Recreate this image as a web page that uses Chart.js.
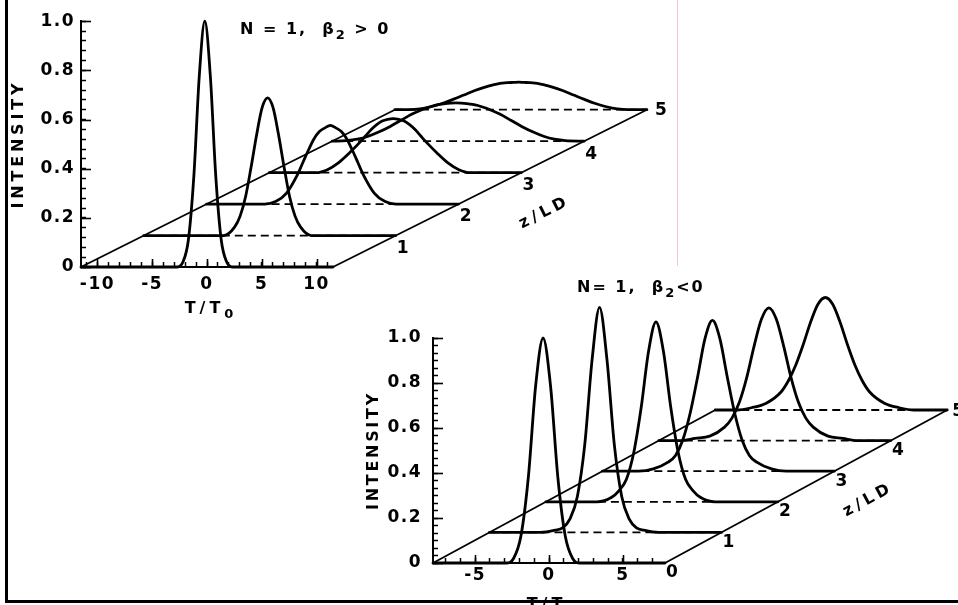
<!DOCTYPE html>
<html>
<head>
<meta charset="utf-8">
<script src="https://cdn.jsdelivr.net/npm/chart.js@4.4.1/dist/chart.umd.min.js"></script>
<style>
  html, body { margin: 0; padding: 0; background: #fff; width: 958px; height: 605px; overflow: hidden; }
  #wrap { position: relative; width: 958px; height: 605px; }
  canvas { position: absolute; left: 0; top: 0; }
  #frameL { position: absolute; left: 5px; top: 0; width: 3px; height: 603px; background: #000; }
  #frameB { position: absolute; left: 5px; top: 600px; width: 953px; height: 3px; background: #000; }
  #scan { position: absolute; left: 677px; top: 0; width: 1px; height: 266px; background: #f5c4cc; }
</style>
</head>
<body>
<div id="wrap">
  <div id="scan"></div>
  <canvas id="cTop" width="958" height="605"></canvas>
  <canvas id="cBot" width="958" height="605"></canvas>
  <div id="frameL"></div>
  <div id="frameB"></div>
</div>
<script>
// ================= DATA =================
// distance steps along the fibre (z / L_D)
const zSteps = [0, 1, 2, 3, 4, 5];

// ---- upper panel: N = 1, beta2 > 0 ----
const topT = [-11.5, -10.2, -9.2, -8.2, -7.2, -6.2, -5.2, -4.2, -3.2, -2.7, -2.2, -1.7, -1.2, -0.7, -0.2, 0.3, 0.8, 1.3, 1.8, 2.3, 2.8, 3.8, 4.8, 5.8, 6.8, 7.8, 8.8, 9.8, 11.5];
const topZ0 = [0, 0, 0, 0, 0, 0, 0, 0, 0, 0, 0.02, 0.11, 0.37, 0.78, 1.0, 0.78, 0.37, 0.11, 0.02, 0, 0, 0, 0, 0, 0, 0, 0, 0, 0];
const topZ1 = [0, 0, 0, 0, 0, 0, 0, 0, 0.035, 0.08, 0.16, 0.28, 0.41, 0.52, 0.56, 0.52, 0.41, 0.28, 0.16, 0.08, 0.035, 0, 0, 0, 0, 0, 0, 0, 0];
const topZ2 = [0, 0, 0, 0, 0, 0, 0.01, 0.045, 0.12, 0.17, 0.22, 0.265, 0.295, 0.31, 0.32, 0.31, 0.295, 0.265, 0.22, 0.17, 0.12, 0.045, 0.01, 0, 0, 0, 0, 0, 0];
const topZ3 = [0, 0, 0, 0, 0, 0.012, 0.04, 0.08, 0.125, 0.15, 0.175, 0.195, 0.21, 0.217, 0.22, 0.217, 0.21, 0.195, 0.175, 0.15, 0.125, 0.08, 0.04, 0.012, 0, 0, 0, 0, 0];
const topZ4 = [0, 0.002, 0.008, 0.02, 0.038, 0.06, 0.085, 0.11, 0.13, 0.138, 0.145, 0.15, 0.153, 0.155, 0.156, 0.155, 0.153, 0.15, 0.145, 0.138, 0.13, 0.11, 0.085, 0.06, 0.038, 0.02, 0.008, 0.002, 0];
const topZ5 = [0, 0, 0.003, 0.012, 0.025, 0.042, 0.06, 0.078, 0.093, 0.099, 0.104, 0.108, 0.11, 0.111, 0.112, 0.111, 0.11, 0.108, 0.104, 0.099, 0.093, 0.078, 0.06, 0.042, 0.025, 0.012, 0.003, 0, 0];
const topXTickValues = [-10, -5, 0, 5, 10];
const topXTickLabels = ['-10', '-5', '0', '5', '10'];
const topYTickValues = [0, 0.2, 0.4, 0.6, 0.8, 1.0];
const topYTickLabels = ['0', '0.2', '0.4', '0.6', '0.8', '1.0'];
const topZLabels = ['', '1', '2', '3', '4', '5'];

// ---- lower panel: N = 1, beta2 < 0 ----
const botT = [-7.85, -6.4, -5.4, -4.4, -3.4, -2.9, -2.4, -1.9, -1.4, -0.9, -0.4, 0.1, 0.6, 1.1, 1.6, 2.1, 2.6, 3.6, 4.6, 5.6, 7.85];
const botZ0 = [0, 0, 0, 0, 0, 0, 0.02, 0.12, 0.38, 0.79, 1.0, 0.79, 0.38, 0.12, 0.02, 0, 0, 0, 0, 0, 0];
const botZ1 = [0, 0, 0, 0, 0.01, 0.02, 0.06, 0.16, 0.39, 0.77, 1.0, 0.77, 0.39, 0.16, 0.06, 0.02, 0.01, 0, 0, 0, 0];
const botZ2 = [0, 0, 0, 0, 0.02, 0.05, 0.10, 0.22, 0.42, 0.67, 0.80, 0.67, 0.42, 0.22, 0.10, 0.05, 0.02, 0, 0, 0, 0];
const botZ3 = [0, 0, 0, 0.01, 0.04, 0.07, 0.14, 0.26, 0.42, 0.59, 0.67, 0.59, 0.42, 0.26, 0.14, 0.07, 0.04, 0.01, 0, 0, 0];
const botZ4 = [0, 0, 0.01, 0.02, 0.06, 0.10, 0.17, 0.28, 0.42, 0.54, 0.59, 0.54, 0.42, 0.28, 0.17, 0.10, 0.06, 0.02, 0.01, 0, 0];
const botZ5 = [0, 0, 0.01, 0.03, 0.08, 0.13, 0.20, 0.29, 0.39, 0.47, 0.50, 0.47, 0.39, 0.29, 0.20, 0.13, 0.08, 0.03, 0.01, 0, 0];
const botXTickValues = [-5, 0, 5];
const botXTickLabels = ['-5', '0', '5'];
const botYTickValues = [0, 0.2, 0.4, 0.6, 0.8, 1.0];
const botYTickLabels = ['0', '0.2', '0.4', '0.6', '0.8', '1.0'];
const botZLabels = ['0', '1', '2', '3', '4', '5'];

// ================= STYLE / LAYOUT =================
const FAM = "'DejaVu Sans'";
const INK = '#000';

const panels = [
  {
    canvas: 'cTop', t: topT, curves: [topZ0, topZ1, topZ2, topZ3, topZ4, topZ5],
    tMin: -11.5, tMax: 11.5, tickMin: -11, tickMax: 11,
    skewT: 5.73, skewI: 0.128,
    xVals: topXTickValues, xLabs: topXTickLabels, yVals: topYTickValues, yLabs: topYTickLabels, yMinorStep: 0.04,
    zLabs: topZLabels,
    padding: { left: 5, top: 17, right: 625, bottom: 288 },
    yWidth: 76, xHeight: 50, yTickPad: 11, xTickPad: 12,
    yTitlePad: { top: 4, bottom: 0 },
    labelSpacing: 1.5, yTitleSpacing: 3.8,
    xTitleDx: 4, xTitleDy: 46,
    zLabOffset: [7, 13], zLastOffset: [14, 1],
    zTitleAt: 3.45, zTitleOffset: [-5, 54],
    title: { x: 240, y: 34, parts: [['N = 1,  β', 16, 0], ['2', 13, 5], [' > 0', 16, 0]] }
  },
  {
    canvas: 'cBot', t: botT, curves: [botZ0, botZ1, botZ2, botZ3, botZ4, botZ5],
    tMin: -7.85, tMax: 7.85, tickMin: -7, tickMax: 7,
    skewT: 3.82, skewI: 0.136,
    xVals: botXTickValues, xLabs: botXTickLabels, yVals: botYTickValues, yLabs: botYTickLabels, yMinorStep: 1 / 30,
    zLabs: botZLabels,
    padding: { left: 360, top: 338, right: 293, bottom: 0 },
    yWidth: 73, xHeight: 42, yTickPad: 16, xTickPad: 7,
    yTitlePad: { top: 4, bottom: 0 },
    labelSpacing: 1.5, yTitleSpacing: 2.7,
    xTitleDx: 4, xTitleDy: 46,
    zLabOffset: [7, 10], zLastOffset: [11, 2],
    zTitleAt: 3.6, zTitleOffset: [0, 47],
    title: { x: 577, y: 292, parts: [['N= 1,  β', 16, 0], ['2', 13, 5], ['<0', 16, 0]] }
  }
];

function isMajor(v, list) {
  return list.findIndex(m => Math.abs(m - v) < 1e-9);
}

function drawParts(ctx, parts, x, y, spacing) {
  let cx = x;
  parts.forEach(([txt, size, dy]) => {
    ctx.font = `bold ${size}px ${FAM}`;
    ctx.letterSpacing = spacing + 'px';
    ctx.fillText(txt, cx, y + dy);
    cx += ctx.measureText(txt).width;
  });
  return cx - x;
}

function buildChart(p) {
  const sx = p.skewT, sy = p.skewI;
  const zMax = zSteps[zSteps.length - 1];
  const datasets = [];
  const base = { showLine: true, pointRadius: 0, borderColor: INK, backgroundColor: INK, fill: false, clip: false };
  // sides of the base plane
  datasets.push(Object.assign({}, base, { borderWidth: 1.8,
    data: [{ x: p.tMin, y: 0 }, { x: p.tMin + zMax * sx, y: zMax * sy }] }));
  datasets.push(Object.assign({}, base, { borderWidth: 1.8,
    data: [{ x: p.tMax, y: 0 }, { x: p.tMax + zMax * sx, y: zMax * sy }] }));
  zSteps.forEach((z, k) => {
    if (z > 0) {
      datasets.push(Object.assign({}, base, { borderWidth: 1.8, borderDash: [8, 5],
        data: [{ x: p.tMin + z * sx, y: z * sy }, { x: p.tMax + z * sx, y: z * sy }] }));
    }
    datasets.push(Object.assign({}, base, { borderWidth: 2.8, cubicInterpolationMode: 'monotone',
      borderJoinStyle: 'round', borderCapStyle: 'round',
      data: p.t.map((t, i) => ({ x: t + z * sx, y: p.curves[k][i] + z * sy })) }));
  });

  const xTicks = [];
  for (let v = p.tickMin; v <= p.tickMax; v++) xTicks.push({ value: v });
  const yTicks = [];
  const nMinor = Math.round(1 / p.yMinorStep);
  for (let i = 0; i <= nMinor; i++) yTicks.push({ value: i / nMinor });

  const annot = {
    id: 'annot',
    beforeDraw(chart) {
      const ctx = chart.ctx;
      ctx.letterSpacing = p.labelSpacing + 'px';
      const sc = chart.scales.y;
      if (!sc._lsPatched) {
        const orig = sc.drawTitle;
        sc.drawTitle = function () {
          const prev = this.ctx.letterSpacing;
          this.ctx.letterSpacing = p.yTitleSpacing + 'px';
          orig.call(this);
          this.ctx.letterSpacing = prev;
        };
        sc._lsPatched = true;
      }
    },
    afterDraw(chart) {
      const ctx = chart.ctx;
      const xs = chart.scales.x, ys = chart.scales.y;
      const ca = chart.chartArea;
      ctx.save();
      ctx.strokeStyle = INK; ctx.fillStyle = INK;
      // longer major tick marks
      ctx.lineWidth = 1.6;
      p.yVals.forEach(v => {
        const py = Math.round(ys.getPixelForValue(v)) + 0.5;
        ctx.beginPath(); ctx.moveTo(ca.left, py); ctx.lineTo(ca.left + 10, py); ctx.stroke();
      });
      p.xVals.forEach(v => {
        const px = Math.round(xs.getPixelForValue(v)) + 0.5;
        ctx.beginPath(); ctx.moveTo(px, ca.bottom); ctx.lineTo(px, ca.bottom - 8); ctx.stroke();
      });
      // T/T0 axis title (with subscript)
      ctx.textAlign = 'left'; ctx.textBaseline = 'alphabetic';
      ctx.save();
      ctx.globalAlpha = 0;
      const w = drawParts(ctx, [['T/T', 16, 0], ['0', 13, 5]], 0, -100, 4);
      ctx.restore();
      const cxT = (ca.left + ca.right) / 2 + p.xTitleDx - w / 2;
      drawParts(ctx, [['T/T', 16, 0], ['0', 13, 5]], cxT, ca.bottom + p.xTitleDy, 4);
      // z / L_D tick labels along the right edge of the base plane
      ctx.font = `bold 17px ${FAM}`;
      ctx.letterSpacing = '0px';
      ctx.textAlign = 'center'; ctx.textBaseline = 'middle';
      zSteps.forEach((z, k) => {
        const lab = p.zLabs[k];
        if (!lab) return;
        const px = xs.getPixelForValue(p.tMax + z * p.skewT);
        const py = ys.getPixelForValue(z * p.skewI);
        const off = k === zSteps.length - 1 ? p.zLastOffset : p.zLabOffset;
        ctx.fillText(lab, px + off[0], py + off[1]);
      });
      // z / L_D axis title, rotated along the edge
      const zMaxV = zSteps[zSteps.length - 1];
      const x0 = xs.getPixelForValue(p.tMax), y0 = ys.getPixelForValue(0);
      const x1 = xs.getPixelForValue(p.tMax + zMaxV * p.skewT), y1 = ys.getPixelForValue(zMaxV * p.skewI);
      const ang = Math.atan2(y1 - y0, x1 - x0);
      const zx = xs.getPixelForValue(p.tMax + p.zTitleAt * p.skewT) + p.zTitleOffset[0];
      const zy = ys.getPixelForValue(p.zTitleAt * p.skewI) + p.zTitleOffset[1];
      ctx.save();
      ctx.translate(zx, zy); ctx.rotate(ang);
      ctx.font = `bold 16px ${FAM}`;
      ctx.letterSpacing = '4px';
      ctx.fillText('z/LD', 0, 0);
      ctx.restore();
      // panel title
      ctx.textAlign = 'left'; ctx.textBaseline = 'alphabetic';
      drawParts(ctx, p.title.parts, p.title.x, p.title.y, 2);
      ctx.restore();
    }
  };

  return new Chart(document.getElementById(p.canvas), {
    type: 'scatter',
    data: { datasets },
    options: {
      responsive: false, maintainAspectRatio: false, animation: false, events: [],
      devicePixelRatio: 1,
      layout: { padding: p.padding, autoPadding: false },
      plugins: { legend: { display: false }, tooltip: { enabled: false }, title: { display: false } },
      scales: {
        x: {
          type: 'linear', position: 'bottom', bounds: 'data',
          afterDataLimits: s => { s.min = p.tMin; s.max = p.tMax; },
          afterBuildTicks: s => { s.ticks = xTicks.map(t => ({ value: t.value })); },
          afterFit: s => { s.height = p.xHeight; },
          ticks: {
            autoSkip: false, maxRotation: 0, minRotation: 0, padding: p.xTickPad, color: INK,
            font: { family: FAM, size: 17, weight: 'bold' },
            callback: v => { const i = isMajor(v, p.xVals); return i >= 0 ? p.xLabs[i] : ''; }
          },
          grid: { drawOnChartArea: false, drawTicks: true, tickLength: -5, tickColor: INK, tickWidth: 1.5, color: INK },
          border: { display: true, color: INK, width: 2 },
          title: { display: false }
        },
        y: {
          type: 'linear', position: 'left', bounds: 'data',
          afterDataLimits: s => { s.min = 0; s.max = 1; },
          afterBuildTicks: s => { s.ticks = yTicks.map(t => ({ value: t.value })); },
          afterFit: s => { s.width = p.yWidth; },
          ticks: {
            autoSkip: false, padding: p.yTickPad, color: INK,
            font: { family: FAM, size: 17, weight: 'bold' },
            callback: v => { const i = isMajor(v, p.yVals); return i >= 0 ? p.yLabs[i] : ''; }
          },
          grid: { drawOnChartArea: false, drawTicks: true, tickLength: -5, tickColor: INK, tickWidth: 1.5, color: INK },
          border: { display: true, color: INK, width: 2 },
          title: { display: true, text: 'INTENSITY', color: INK, font: { family: FAM, size: 16, weight: 'bold' }, padding: p.yTitlePad }
        }
      }
    },
    plugins: [annot]
  });
}

panels.forEach(buildChart);
</script>
</body>
</html>
